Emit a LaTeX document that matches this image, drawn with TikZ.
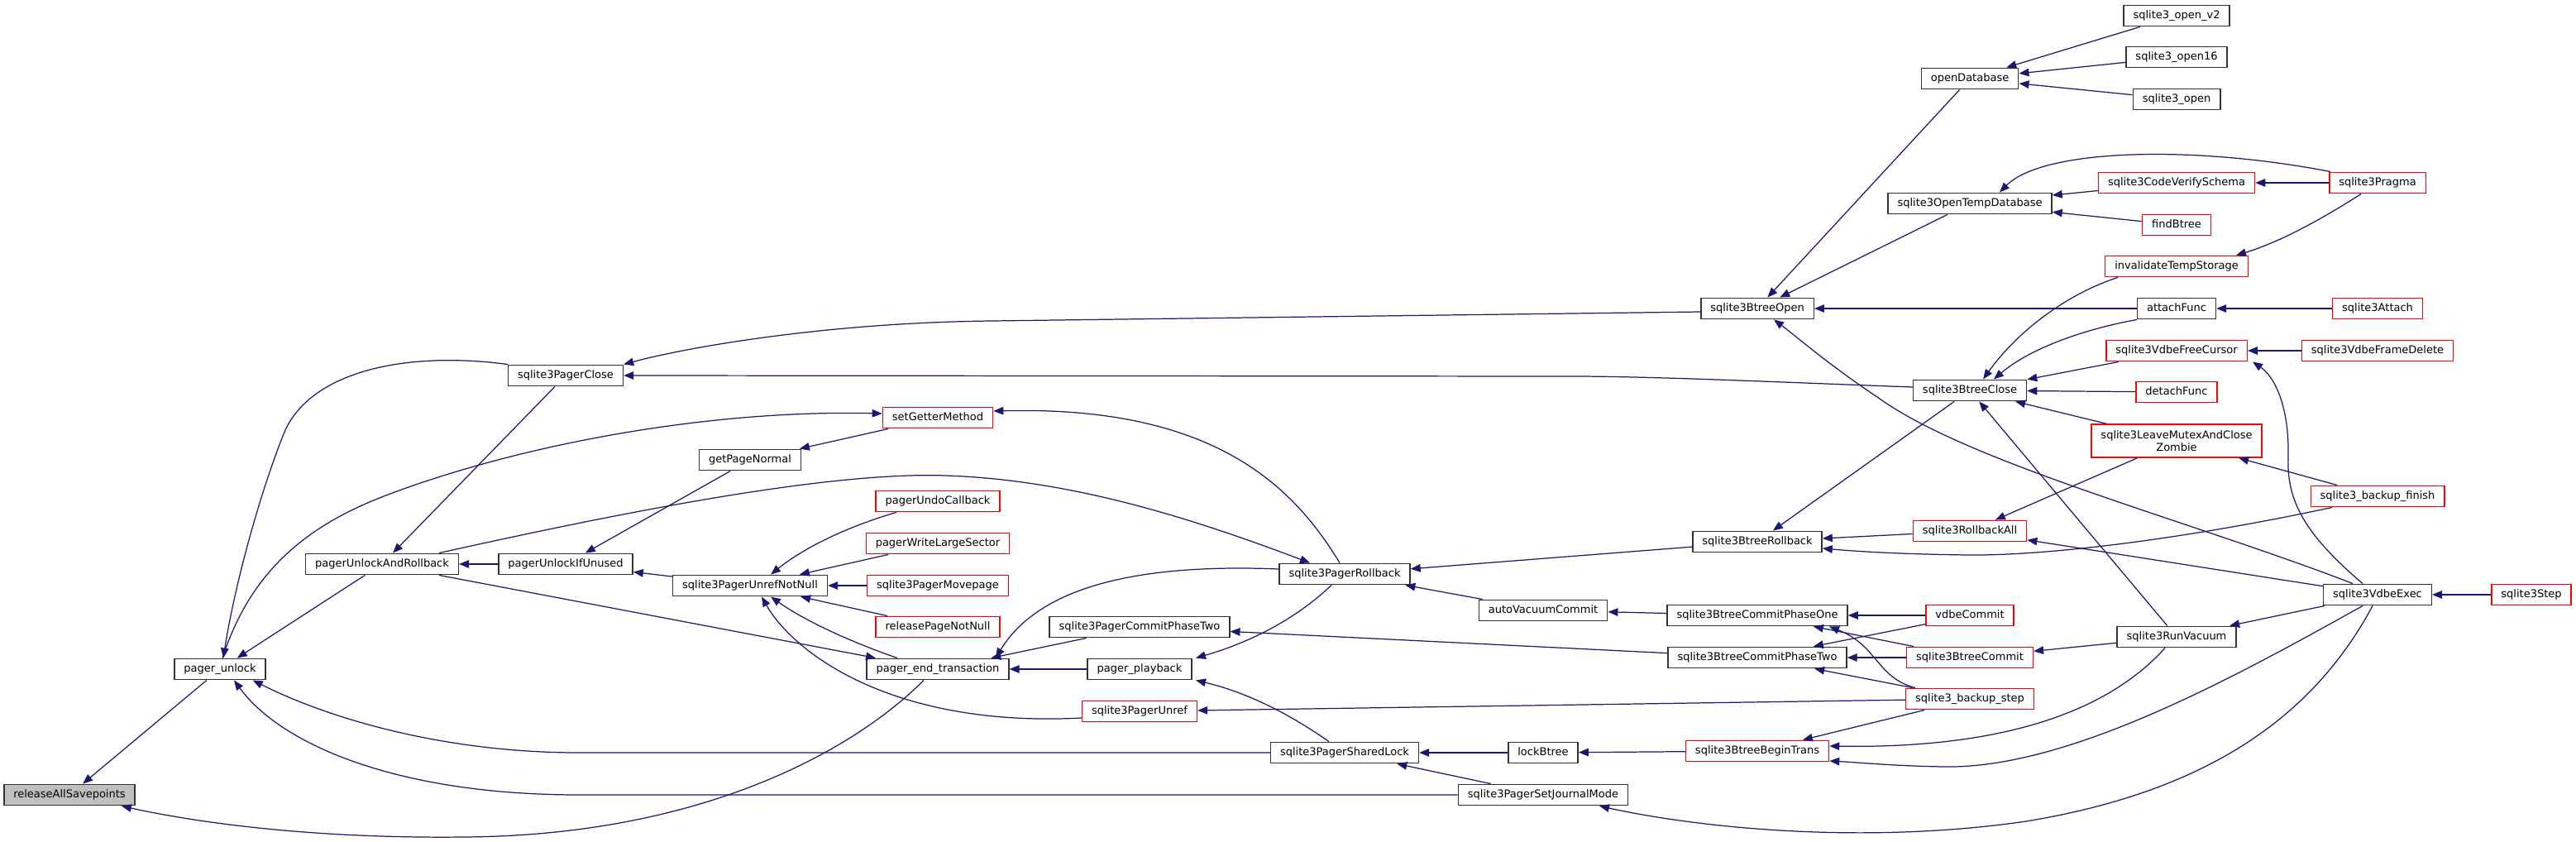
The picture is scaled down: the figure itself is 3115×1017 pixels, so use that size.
\documentclass[tikz,border=0pt]{standalone}
\usepackage{fontspec}
\setmainfont{DejaVu Sans}
\usetikzlibrary{arrows.meta}
\definecolor{edgeblue}{RGB}{25,25,112}
\definecolor{boxred}{RGB}{255,0,0}
\begin{document}
\begin{tikzpicture}[x=0.02cm,y=-0.02cm,line cap=butt,line join=miter,>={Triangle[length=0.24cm,width=0.19cm]},
	fn/.style={draw=black!80,line width=0.8pt,fill=white,font=\fontsize{7.4}{8.6}\selectfont,inner xsep=0.23cm,inner ysep=0pt,minimum height=0.51cm,text height=5.5pt,text depth=1.5pt},
	fnred/.style={fn,draw=boxred},
	call/.style={->,draw=edgeblue,line width=0.7pt}]
	
	\useasboundingbox (0,0) rectangle (3115,1017);
	
	% functions, one column per call depth
	\node[fn,fill=black!25] (rasp) at (84,961) {releaseAllSavepoints};
	\node[fn] (punlock) at (266,809) {pager\_unlock};
	\node[fn] (pualr) at (462,682) {pagerUnlockAndRollback};
	\node[fn] (puiu) at (684,682) {pagerUnlockIfUnused};
	\node[fn] (pclose) at (684,454) {sqlite3PagerClose};
	\node[fn] (getpage) at (907,556) {getPageNormal};
	\node[fn] (unrefnn) at (907,708) {sqlite3PagerUnrefNotNull};
	\node[fnred] (setgetter) at (1134,505) {setGetterMethod};
	\node[fnred] (undocb) at (1134,606) {pagerUndoCallback};
	\node[fnred] (wlarge) at (1134,657) {pagerWriteLargeSector};
	\node[fnred] (movepage) at (1134,708) {sqlite3PagerMovepage};
	\node[fnred] (relpage) at (1134,758) {releasePageNotNull};
	\node[fn] (petrans) at (1134,809) {pager\_end\_transaction};
	\node[fn] (pcommit2) at (1378,758) {sqlite3PagerCommitPhaseTwo};
	\node[fn] (playback) at (1378,809) {pager\_playback};
	\node[fnred] (punref) at (1378,860) {sqlite3PagerUnref};
	\node[fn] (prollback) at (1626,694) {sqlite3PagerRollback};
	\node[fn] (slock) at (1626,910) {sqlite3PagerSharedLock};
	\node[fn] (autovac) at (1866,738) {autoVacuumCommit};
	\node[fn] (lockbt) at (1866,910) {lockBtree};
	\node[fn] (sjmode) at (1866,961) {sqlite3PagerSetJournalMode};
	\node[fn] (bopen) at (2125,373) {sqlite3BtreeOpen};
	\node[fn] (brollback) at (2125,655) {sqlite3BtreeRollback};
	\node[fn] (bcommit1) at (2125,744) {sqlite3BtreeCommitPhaseOne};
	\node[fn] (bcommit2) at (2125,795) {sqlite3BtreeCommitPhaseTwo};
	\node[fnred] (begintrans) at (2125,908) {sqlite3BtreeBeginTrans};
	\node[fn] (opendb) at (2382,95) {openDatabase};
	\node[fn] (opentemp) at (2382,246) {sqlite3OpenTempDatabase};
	\node[fn] (bclose) at (2382,472) {sqlite3BtreeClose};
	\node[fnred] (rollall) at (2382,642) {sqlite3RollbackAll};
	\node[fnred] (vdbecommit) at (2382,744) {vdbeCommit};
	\node[fnred] (btcommit) at (2382,795) {sqlite3BtreeCommit};
	\node[fnred] (bkstep) at (2382,845) {sqlite3\_backup\_step};
	\node[fn] (openv2) at (2632,19) {sqlite3\_open\_v2};
	\node[fn] (open16) at (2632,69) {sqlite3\_open16};
	\node[fn] (openplain) at (2632,120) {sqlite3\_open};
	\node[fnred] (verify) at (2632,221) {sqlite3CodeVerifySchema};
	\node[fnred] (findbt) at (2632,272) {findBtree};
	\node[fnred] (invtemp) at (2632,322) {invalidateTempStorage};
	\node[fn] (attach) at (2632,373) {attachFunc};
	\node[fnred] (freecursor) at (2632,424) {sqlite3VdbeFreeCursor};
	\node[fnred] (detach) at (2632,474) {detachFunc};
	\node[fnred,text height=,text depth=,align=center,minimum height=0.8cm] (zombie) at (2632,533) {sqlite3LeaveMutexAndClose\\Zombie};
	\node[fn] (vacuum) at (2632,770) {sqlite3RunVacuum};
	\node[fnred] (pragma) at (2875,221) {sqlite3Pragma};
	\node[fnred] (sqlattach) at (2875,373) {sqlite3Attach};
	\node[fnred] (framedel) at (2875,424) {sqlite3VdbeFrameDelete};
	\node[fnred] (bkfinish) at (2875,600) {sqlite3\_backup\_finish};
	\node[fn] (vdbeexec) at (2875,719) {sqlite3VdbeExec};
	\node[fnred] (step) at (3061,719) {sqlite3Step};
	
	% calls, caller -> callee
	\draw[call] (punlock) -- (rasp);
	\draw[call] ([xshift=-0.34cm]petrans.south) .. controls (1040,900) and (860,1010) .. (560,1012) .. controls (380,1014) and (240,995) .. ([xshift=-0.34cm]rasp.south east);
	\draw[call] (pclose.north west) .. controls (500,425) and (380,445) .. (345,520) .. controls (318,585) and (285,700) .. ([xshift=0.08cm]punlock.north);
	\draw[call] (pualr) -- (punlock);
	\draw[call] (slock.west) -- (700,910) .. controls (540,910) and (400,870) .. ([xshift=-0.32cm]punlock.south east);
	\draw[call] (sjmode.west) -- (700,961) .. controls (480,961) and (340,900) .. ([xshift=0.34cm]punlock.south);
	\draw[call] ([xshift=0.06cm]punlock.north) .. controls (300,700) and (360,640) .. (464,600) .. controls (620,540) and (850,495) .. ([yshift=0.1cm]setgetter.west);
	\draw[call] (pclose) -- (pualr);
	\draw[call] (puiu) -- (pualr);
	\draw[call] ([xshift=1.38cm]pualr.north) .. controls (750,620) and (1000,570) .. (1143,575) .. controls (1300,580) and (1450,630) .. ([xshift=-0.84cm]prollback.north);
	\draw[call] ([xshift=1.38cm]pualr.south) -- ([xshift=-1.5cm]petrans.north);
	\draw[call] (getpage) -- (puiu);
	\draw[call] (unrefnn) -- (puiu);
	\draw[call] (setgetter) -- (getpage);
	\draw[call] ([xshift=-0.12cm]prollback.north) .. controls (1565,590) and (1470,490) .. ([yshift=0.16cm]setgetter.east);
	\draw[call] ([xshift=-1cm]undocb.south) .. controls (1030,635) and (975,660) .. ([xshift=0.5cm]unrefnn.north);
	\draw[call] (wlarge) -- (unrefnn);
	\draw[call] (movepage) -- (unrefnn);
	\draw[call] (relpage) -- (unrefnn);
	\draw[call] ([xshift=-0.98cm]petrans.north) .. controls (1040,780) and (980,755) .. ([xshift=0.5cm]unrefnn.south);
	\draw[call] ([yshift=-0.16cm]punref.west) .. controls (1080,880) and (960,790) .. ([xshift=0.28cm]unrefnn.south);
	\draw[call] (playback) -- (petrans);
	\draw[call] (pcommit2) -- (petrans);
	\draw[call] ([yshift=0.12cm]prollback.west) .. controls (1350,680) and (1250,720) .. ([xshift=1.4cm]petrans.north);
	\draw[call] ([xshift=-0.32cm]prollback.south) .. controls (1560,755) and (1500,780) .. ([xshift=1.36cm]playback.north);
	\draw[call] ([xshift=-0.38cm]slock.north) .. controls (1540,850) and (1490,833) .. ([xshift=1.36cm]playback.south);
	\draw[call] (brollback) -- (prollback);
	\draw[call] (autovac) -- (prollback);
	\draw[call] (bcommit2) -- (pcommit2);
	\draw[call] (bkstep) -- (punref);
	\draw[call] (lockbt) -- (slock);
	\draw[call] (sjmode) -- (slock);
	\draw[call] ([yshift=-0.08cm]bopen.west) -- (1200,388) .. controls (1000,390) and (830,420) .. (pclose.north east);
	\draw[call] ([yshift=0.08cm]bclose.west) .. controls (2150,462) and (2000,455) .. (1900,455) -- (pclose.east);
	\draw[call] (bclose) -- (brollback);
	\draw[call] (rollall) -- (brollback);
	\draw[call] ([xshift=-1.1cm]bkfinish.south) .. controls (2650,650) and (2480,672) .. (2380,671) .. controls (2300,670) and (2250,667) .. ([yshift=-0.16cm]brollback.east);
	\draw[call] (bcommit1) -- (autovac);
	\draw[call] (vdbecommit) -- (bcommit1);
	\draw[call] (btcommit) -- (bcommit1);
	\draw[call] ([xshift=-1.32cm]bkstep.north) .. controls (2270,820) and (2270,780) .. ([xshift=1.74cm]bcommit1.south);
	\draw[call] (vdbecommit) -- (bcommit2);
	\draw[call] (btcommit) -- (bcommit2);
	\draw[call] (bkstep) -- (bcommit2);
	\draw[call] (begintrans) -- (lockbt);
	\draw[call] (bkstep) -- (begintrans);
	\draw[call] ([xshift=-0.28cm]vacuum.south) .. controls (2540,870) and (2400,905) .. ([yshift=0.12cm]begintrans.east);
	\draw[call] ([xshift=-0.36cm]vdbeexec.south) .. controls (2700,820) and (2500,930) .. (2350,927) .. controls (2290,926) and (2250,922) .. ([yshift=-0.24cm]begintrans.east);
	\draw[call] ([xshift=-0.12cm]vdbeexec.south) .. controls (2790,880) and (2650,960) .. (2450,993) .. controls (2250,1022) and (2050,1000) .. ([xshift=1.36cm]sjmode.south);
	\draw[call] (opendb) -- (bopen);
	\draw[call] (opentemp) -- (bopen);
	\draw[call] (attach) -- (bopen);
	\draw[call] ([xshift=-0.6cm]vdbeexec.north) .. controls (2650,630) and (2380,560) .. (2270,480) .. controls (2210,440) and (2170,405) .. ([xshift=0.4cm]bopen.south);
	\draw[call] ([xshift=-1.42cm]invtemp.south) .. controls (2500,355) and (2440,400) .. ([xshift=0.32cm]bclose.north);
	\draw[call] (attach.south west) .. controls (2510,400) and (2450,425) .. ([xshift=0.58cm]bclose.north);
	\draw[call] (freecursor) -- (bclose);
	\draw[call] (detach) -- (bclose);
	\draw[call] (zombie) -- (bclose);
	\draw[call] (vacuum) -- (bclose);
	\draw[call] (zombie) -- (rollall);
	\draw[call] (vdbeexec) -- (rollall);
	\draw[call] (vacuum) -- (btcommit);
	\draw[call] (openv2) -- (opendb);
	\draw[call] (open16) -- (opendb);
	\draw[call] (openplain) -- (opendb);
	\draw[call] ([xshift=-1.14cm]pragma.north) .. controls (2650,175) and (2470,180) .. ([xshift=0.72cm]opentemp.north);
	\draw[call] (verify) -- (opentemp);
	\draw[call] (findbt) -- (opentemp);
	\draw[call] (pragma) -- (verify);
	\draw[call] ([xshift=-0.4cm]pragma.south) .. controls (2800,270) and (2750,295) .. ([xshift=1.44cm]invtemp.north);
	\draw[call] (sqlattach) -- (attach);
	\draw[call] (framedel) -- (freecursor);
	\draw[call] ([xshift=-0.36cm]vdbeexec.north) .. controls (2780,640) and (2765,600) .. (2767,550) .. controls (2768,490) and (2750,455) .. ([xshift=1.84cm]freecursor.south);
	\draw[call] (bkfinish) -- (zombie);
	\draw[call] (vdbeexec) -- (vacuum);
	\draw[call] (step) -- (vdbeexec);
	
\end{tikzpicture}
\end{document}
